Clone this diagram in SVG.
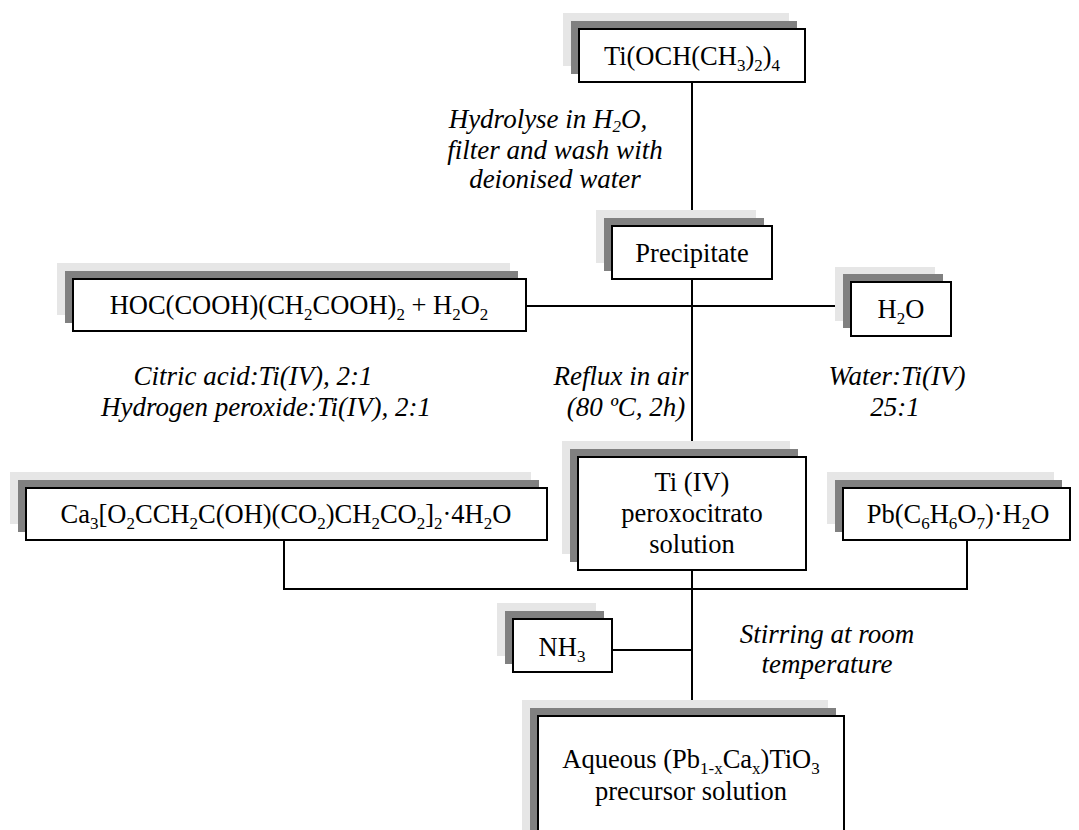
<svg xmlns="http://www.w3.org/2000/svg" width="1079" height="830" viewBox="0 0 1079 830">
<style>
.lg{fill:#e6e6e6}
.dg{fill:#808080}
.bx{fill:#fff;stroke:#000;stroke-width:2}
.t{font-family:"Liberation Serif","Times New Roman",serif;font-size:26.5px;fill:#000;text-anchor:middle}
.i{font-family:"Liberation Serif","Times New Roman",serif;font-size:27px;font-style:italic;fill:#000;text-anchor:middle}
.s{font-size:17px}
.c{stroke:#000;stroke-width:2;fill:none}
</style>
<rect width="1079" height="830" fill="#fff"/>
<g id="connectors">
<line class="c" x1="692" y1="82" x2="692" y2="226"/>
<line class="c" x1="692" y1="279" x2="692" y2="457"/>
<line class="c" x1="526" y1="306" x2="851" y2="306"/>
<line class="c" x1="692" y1="570" x2="692" y2="716"/>
<polyline class="c" points="284,540 284,589 967,589 967,540"/>
<line class="c" x1="612" y1="650" x2="692" y2="650"/>
</g>
<g id="n1">
<rect class="lg" x="563" y="13" width="226" height="53"/>
<rect class="dg" x="571" y="21" width="226" height="53"/>
<rect class="bx" x="579" y="29" width="226" height="53"/>
<text class="t" x="692" y="65">Ti(OCH(CH<tspan class="s" dy="6">3</tspan><tspan dy="-6">)</tspan><tspan class="s" dy="6">2</tspan><tspan dy="-6">)</tspan><tspan class="s" dy="6">4</tspan></text>
</g>
<g id="n2">
<rect class="lg" x="596" y="210" width="160" height="53"/>
<rect class="dg" x="604" y="218" width="160" height="53"/>
<rect class="bx" x="612" y="226" width="160" height="53"/>
<text class="t" x="692" y="262">Precipitate</text>
</g>
<g id="n3">
<rect class="lg" x="57" y="263" width="453" height="52"/>
<rect class="dg" x="65" y="271" width="453" height="52"/>
<rect class="bx" x="73" y="279" width="453" height="52"/>
<text class="t" x="299" y="314">HOC(COOH)(CH<tspan class="s" dy="6">2</tspan><tspan dy="-6">COOH)</tspan><tspan class="s" dy="6">2</tspan><tspan dy="-6"> + H</tspan><tspan class="s" dy="6">2</tspan><tspan dy="-6">O</tspan><tspan class="s" dy="6">2</tspan></text>
</g>
<g id="n4">
<rect class="lg" x="835" y="267" width="100" height="54"/>
<rect class="dg" x="843" y="274" width="100" height="54"/>
<rect class="bx" x="851" y="282" width="100" height="54"/>
<text class="t" x="901" y="318">H<tspan class="s" dy="6">2</tspan><tspan dy="-6">O</tspan></text>
</g>
<g id="n5">
<rect class="lg" x="562" y="441" width="228" height="113"/>
<rect class="dg" x="570" y="449" width="228" height="113"/>
<rect class="bx" x="578" y="457" width="228" height="113"/>
<text class="t" x="692" y="491">Ti (IV)</text>
<text class="t" x="692" y="522">peroxocitrato</text>
<text class="t" x="692" y="553">solution</text>
</g>
<g id="n6">
<rect class="lg" x="10" y="472" width="521" height="52"/>
<rect class="dg" x="18" y="480" width="521" height="52"/>
<rect class="bx" x="26" y="488" width="521" height="52"/>
<text class="t" x="286" y="523">Ca<tspan class="s" dy="6">3</tspan><tspan dy="-6">[O</tspan><tspan class="s" dy="6">2</tspan><tspan dy="-6">CCH</tspan><tspan class="s" dy="6">2</tspan><tspan dy="-6">C(OH)(CO</tspan><tspan class="s" dy="6">2</tspan><tspan dy="-6">)CH</tspan><tspan class="s" dy="6">2</tspan><tspan dy="-6">CO</tspan><tspan class="s" dy="6">2</tspan><tspan dy="-6">]</tspan><tspan class="s" dy="6">2</tspan><tspan dy="-6">·4H</tspan><tspan class="s" dy="6">2</tspan><tspan dy="-6">O</tspan></text>
</g>
<g id="n7">
<rect class="lg" x="827" y="472" width="227" height="52"/>
<rect class="dg" x="835" y="480" width="227" height="52"/>
<rect class="bx" x="843" y="488" width="227" height="52"/>
<text class="t" x="958" y="523">Pb(C<tspan class="s" dy="6">6</tspan><tspan dy="-6">H</tspan><tspan class="s" dy="6">6</tspan><tspan dy="-6">O</tspan><tspan class="s" dy="6">7</tspan><tspan dy="-6">)·H</tspan><tspan class="s" dy="6">2</tspan><tspan dy="-6">O</tspan></text>
</g>
<g id="n8">
<rect class="lg" x="497" y="603" width="99" height="53"/>
<rect class="dg" x="505" y="611" width="99" height="53"/>
<rect class="bx" x="513" y="619" width="99" height="53"/>
<text class="t" x="562" y="656">NH<tspan class="s" dy="6">3</tspan></text>
</g>
<g id="n9">
<rect class="lg" x="522" y="700" width="306" height="140"/>
<rect class="dg" x="530" y="708" width="306" height="140"/>
<rect class="bx" x="538" y="716" width="306" height="140"/>
<text class="t" x="691" y="768">Aqueous (Pb<tspan class="s" dy="6">1-x</tspan><tspan dy="-6">Ca</tspan><tspan class="s" dy="6">x</tspan><tspan dy="-6">)TiO</tspan><tspan class="s" dy="6">3</tspan></text>
<text class="t" x="691" y="800">precursor solution</text>
</g>
<g id="labels">
<text class="i" x="548" y="128">Hydrolyse in H<tspan class="s" dy="4">2</tspan><tspan dy="-4">O,</tspan></text>
<text class="i" x="555" y="159">filter and wash with</text>
<text class="i" x="555" y="188">deionised water</text>
<text class="i" x="253" y="385">Citric acid:Ti(IV), 2:1</text>
<text class="i" x="266" y="416">Hydrogen peroxide:Ti(IV), 2:1</text>
<text class="i" x="621" y="385">Reflux in air</text>
<text class="i" x="626" y="416">(80 ºC, 2h)</text>
<text class="i" x="897" y="385">Water:Ti(IV)</text>
<text class="i" x="895" y="416">25:1</text>
<text class="i" x="827" y="643">Stirring at room</text>
<text class="i" x="827" y="673">temperature</text>
</g>
</svg>
